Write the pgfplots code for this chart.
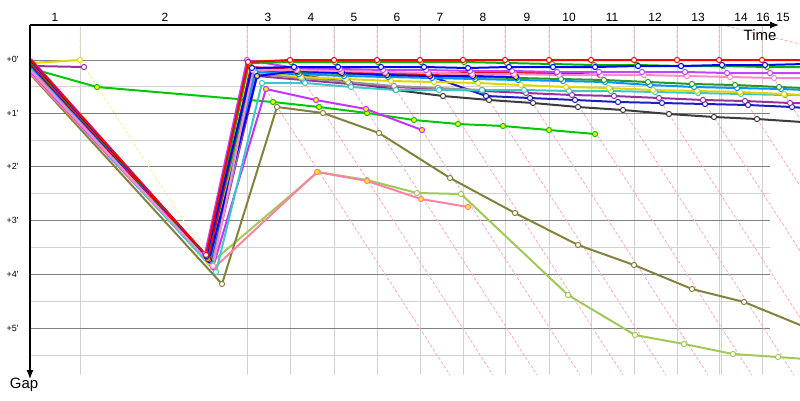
\documentclass[border=0pt]{standalone}
\usepackage{pgfplots}
\pgfplotsset{compat=1.18}
\usetikzlibrary{arrows.meta}
\usepackage{fontspec}
\setmainfont{Liberation Sans}

\definecolor{cRed}{RGB}{255,0,0}
\definecolor{cBlue}{RGB}{0,0,255}
\definecolor{cGreen}{RGB}{0,180,0}
\definecolor{cViolet}{RGB}{190,70,255}
\definecolor{cPink}{RGB}{255,140,200}
\definecolor{cForest}{RGB}{40,150,40}
\definecolor{cAzure}{RGB}{0,150,255}
\definecolor{cYellow}{RGB}{225,215,0}
\definecolor{cCyan}{RGB}{60,200,200}
\definecolor{cGrey}{RGB}{150,150,150}
\definecolor{cPurple}{RGB}{150,50,160}
\definecolor{cNavy}{RGB}{30,30,190}
\definecolor{cDark}{RGB}{60,60,60}
\definecolor{cMagenta}{RGB}{200,50,255}
\definecolor{cLime}{RGB}{0,200,0}
\definecolor{cOlive}{RGB}{130,130,60}
\definecolor{cLight}{RGB}{160,200,90}
\definecolor{cRose}{RGB}{255,130,160}
\definecolor{gridMaj}{RGB}{128,128,128}
\definecolor{gridMin}{RGB}{210,210,210}
\definecolor{lapPink}{RGB}{255,170,170}
\definecolor{lapYellow}{RGB}{245,240,150}

\pgfplotsset{
  drv/.style={color=#1, line width=2pt, mark=*, mark size=2.6pt,
    mark repeat=1, mark phase=2, mark options={fill=white, line width=1pt}},
  drvy/.style={color=#1, line width=2pt, mark=*, mark size=2.6pt,
    mark repeat=1, mark phase=2, mark options={fill=yellow, line width=1pt}},
}

\begin{document}
\begin{tikzpicture}
\begin{axis}[
  name=gapchart,
  scale only axis, width=800bp, height=400bp,
  xmin=0, xmax=800, ymin=0, ymax=400, y dir=reverse,
  hide axis, clip=true,
  every axis plot/.append style={line join=round},
]
% grid
\pgfplotsinvokeforeach{86.5,140,193,247,301,355}{
  \draw[gridMin, line width=1pt] (30,#1) -- (770,#1);
}
\pgfplotsinvokeforeach{80,247,290,334,377,420,463,505,549,591,634,677,719,721,762}{
  \draw[gridMin, line width=1pt] (#1,25) -- (#1,375);
}
\pgfplotsinvokeforeach{60,113,166,220,274,328}{
  \draw[gridMaj, line width=1pt] (30,#1) -- (770,#1);
}
% leader lap lines
\draw[lapYellow, line width=0.8pt, dash pattern=on 3pt off 2pt] (80,25) -- (80,60) -- (207,257);
\pgfplotsinvokeforeach{247,290,334,377,420,463,505,549,591,634,677,719,762}{
  \draw[lapPink, line width=0.8pt, dash pattern=on 3pt off 2pt] (#1,25) -- (#1,60) -- (#1+203,375);
}
\draw[lapPink, line width=0.8pt, dash pattern=on 3pt off 2pt] (722,25) -- (800,44);

% drivers (slowest drawn first)
\addplot[drv=cLight] coordinates {(31,73) (212,262) (318,172) (367,180) (417,193) (461,194) (568,295) (635,335) (684,344) (733,354) (778,357) (805,359)};
\addplot[drv=cOlive] coordinates {(31,75) (222,284) (277,107) (323,113) (379,133) (450,178) (515,213) (578,245) (634,265) (692,289) (744,302) (805,327)};
\addplot[drvy=cRose] coordinates {(31,74) (214,268) (317,172) (367,181) (421,199) (468,207)};
\addplot[drvy=cLime] coordinates {(33,69) (97,87) (273,102) (319,107) (367,113) (414,120) (458,124) (503,126) (549,130) (595,134)};
\addplot[drvy=cMagenta] coordinates {(31,72) (213,267) (266,89) (316,100) (366,109) (422,130)};
\addplot[drv=cDark] coordinates {(31,68) (211,263) (254,70) (300,75) (348,82) (396,90) (443,96) (489,100) (533,103) (578,107) (623,110) (669,114) (714,117) (757,119) (802,122) (805,122)};
\addplot[drv=cNavy] coordinates {(31,67) (210,262) (254,70) (298,73) (342,73) (386,74) (430,76) (486,96) (530,98) (575,100) (618,102) (662,103) (705,104) (748,105) (792,107) (805,108)};
\addplot[drv=cPurple] coordinates {(32,66) (84,67)};
\addplot[drv=cPurple, mark phase=1] coordinates {(212,264) (257,76) (303,80) (350,84) (394,87) (439,89) (483,91) (526,93) (572,95) (614,96) (659,98) (703,100) (745,101) (790,103) (805,103)};
\addplot[drv=cGrey] coordinates {(31,69) (212,264) (256,74) (302,78) (348,82) (394,86) (438,88) (482,90)};
\addplot[drv=cCyan] coordinates {(31,70) (216,272) (262,83) (305,83) (351,87) (396,90) (439,90) (482,90) (524,90) (569,91) (611,91) (655,92) (698,93) (741,94) (785,95) (805,95)};
\addplot[drv=cYellow] coordinates {(32,63) (80,60)};
\addplot[drv=cYellow, mark phase=1] coordinates {(209,262) (254,71) (301,77) (346,79) (391,81) (434,82) (478,83) (521,85) (566,87) (609,88) (653,90) (697,91) (740,92) (784,94) (805,95)};
\addplot[drv=cAzure] coordinates {(31,66) (210,261) (255,72) (299,74) (344,76) (388,77) (432,78) (475,79) (518,80) (563,81) (605,82) (650,85) (694,87) (737,88) (781,89) (805,90)};
\addplot[drv=cForest] coordinates {(31,63) (208,258) (253,69) (298,72) (343,74) (387,75) (430,76) (474,77) (517,78) (561,79) (604,80) (648,82) (692,84) (735,85) (779,87) (805,88)};
\addplot[drvy=cBlue] coordinates {(31,65) (209,260) (257,76) (297,71) (342,73) (387,75) (430,76) (473,76) (516,77)};
\addplot[drvy=cRed] coordinates {(31,64) (208,259) (251,67) (296,70) (341,71) (385,73) (429,74) (471,73) (513,73) (557,73) (600,75)};
\addplot[drv=cPink] coordinates {(31,71) (213,266) (253,70) (297,70) (341,71) (385,72) (428,73) (472,74) (514,74) (559,75) (601,75) (644,75) (687,76) (730,77) (774,78) (805,78)};
\addplot[drv=cViolet] coordinates {(31,59) (205,254) (247,60) (295,68) (340,69) (383,70) (426,70) (470,71) (512,71) (557,72) (599,72) (642,72) (685,72) (727,73) (770,73) (805,73)};
\addplot[drv=cGreen] coordinates {(31,62) (207,257) (249,63) (291,62) (335,62) (378,62) (421,62) (464,62) (507,63) (552,64) (594,65) (637,65) (681,66) (723,66) (767,67) (805,67)};
\addplot[drv=cBlue] coordinates {(31,61) (206.5,256) (252,68) (294,67) (338,67) (381,67) (424,67) (468,68) (509,67) (553,67) (595,67) (638,66) (681,66) (722,65) (765,65) (805,64)};
\addplot[drv=cRed] coordinates {(31,60) (206,255) (248,62) (290,60) (334,60) (377,60) (420,60) (463,60) (505,60) (549,60) (591,60) (634,60) (677,60) (719,60) (762,60) (805,60)};

% axes
\draw[black, line width=1.2pt, -{Latex[length=9bp,width=7bp]}] (30,25) -- (779,25);
\draw[black, line width=1.2pt, -{Latex[length=9bp,width=7bp]}] (30,25) -- (30,379);
\node[font=\fontsize{15}{17}\selectfont] at (760,35) {Time};
\node[font=\fontsize{15}{17}\selectfont] at (24,385) {Gap};
% gap labels
\node[anchor=east, font=\fontsize{9}{10}\selectfont] at (22,59) {+0\textquotesingle};
\node[anchor=east, font=\fontsize{9}{10}\selectfont] at (22,113) {+1\textquotesingle};
\node[anchor=east, font=\fontsize{9}{10}\selectfont] at (22,166) {+2\textquotesingle};
\node[anchor=east, font=\fontsize{9}{10}\selectfont] at (22,220) {+3\textquotesingle};
\node[anchor=east, font=\fontsize{9}{10}\selectfont] at (22,274) {+4\textquotesingle};
\node[anchor=east, font=\fontsize{9}{10}\selectfont] at (22,328) {+5\textquotesingle};
% lap labels
\node[font=\fontsize{12}{14}\selectfont] at (55,17) {1};
\node[font=\fontsize{12}{14}\selectfont] at (165,17) {2};
\node[font=\fontsize{12}{14}\selectfont] at (268,17) {3};
\node[font=\fontsize{12}{14}\selectfont] at (311,17) {4};
\node[font=\fontsize{12}{14}\selectfont] at (354,17) {5};
\node[font=\fontsize{12}{14}\selectfont] at (397,17) {6};
\node[font=\fontsize{12}{14}\selectfont] at (440,17) {7};
\node[font=\fontsize{12}{14}\selectfont] at (483,17) {8};
\node[font=\fontsize{12}{14}\selectfont] at (527,17) {9};
\node[font=\fontsize{12}{14}\selectfont] at (569,17) {10};
\node[font=\fontsize{12}{14}\selectfont] at (612,17) {11};
\node[font=\fontsize{12}{14}\selectfont] at (655,17) {12};
\node[font=\fontsize{12}{14}\selectfont] at (698,17) {13};
\node[font=\fontsize{12}{14}\selectfont] at (741,17) {14};
\node[font=\fontsize{12}{14}\selectfont] at (763,17) {16};
\node[font=\fontsize{12}{14}\selectfont] at (783,17) {15};
\end{axis}
\pgfresetboundingbox
\path[use as bounding box] (gapchart.south west) rectangle (gapchart.north east);
\end{tikzpicture}
\end{document}
